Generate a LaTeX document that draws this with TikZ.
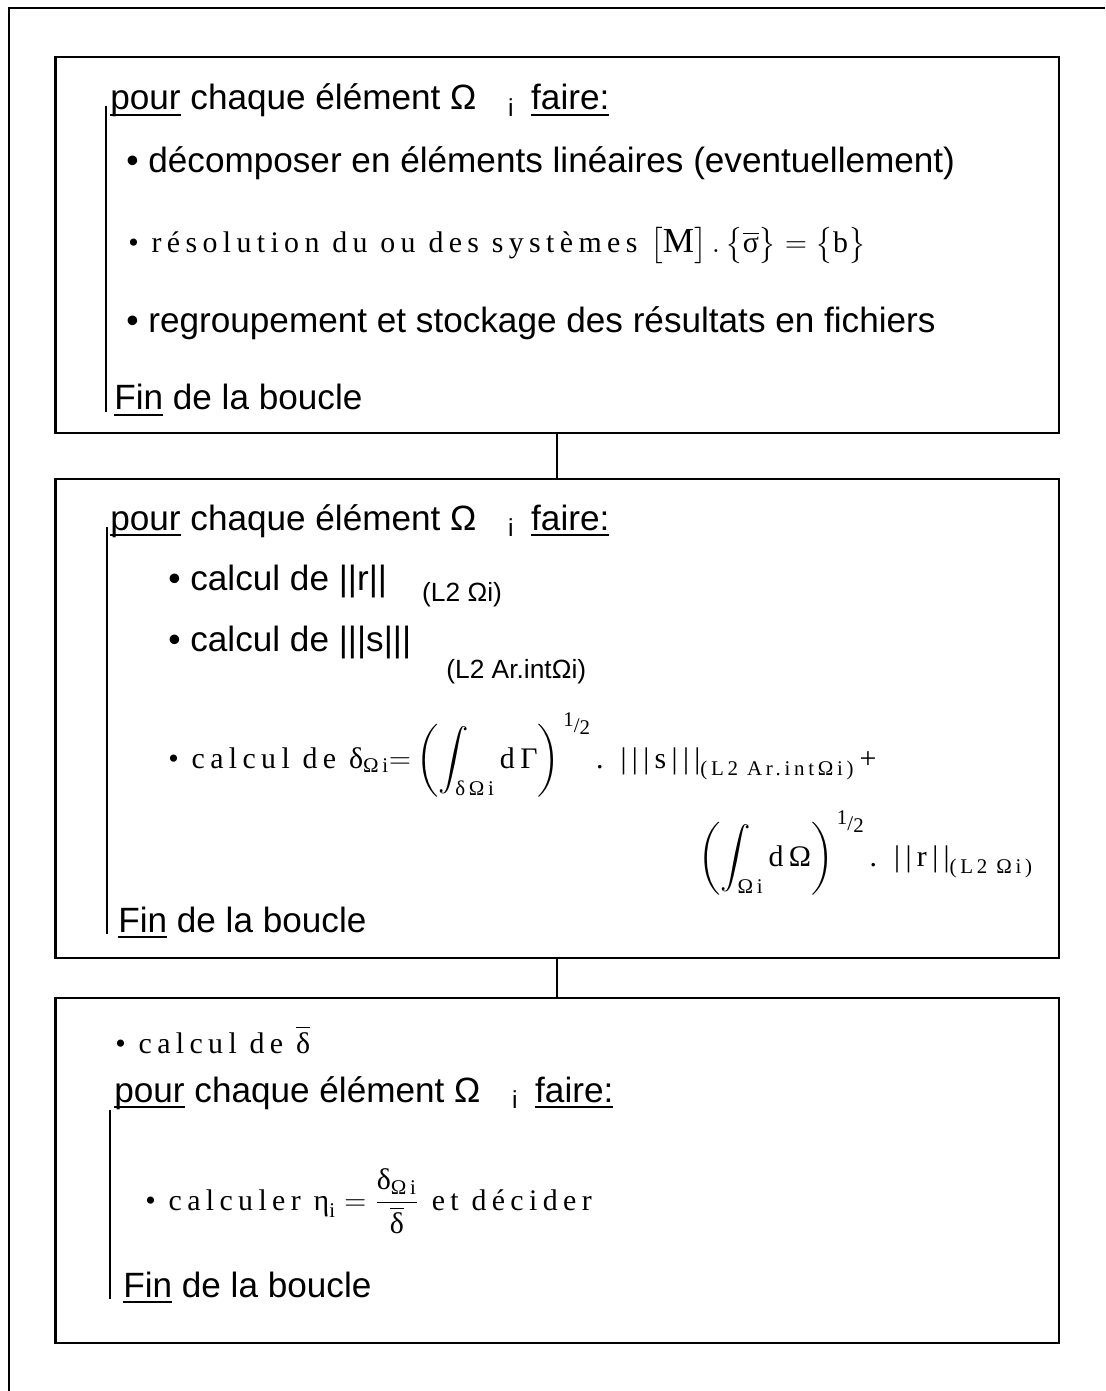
\documentclass[tikz,border=0pt]{standalone}
\usepackage{amsmath}
\usepackage{fontspec}
\setmainfont{Liberation Sans}
\newfontfamily\spaced[LetterSpace=18]{Liberation Serif}
\newcommand{\gk}[1]{\text{\spaced #1}}
\newcommand{\half}{\text{\spaced\raisebox{0.6ex}{1}/\raisebox{-0.25ex}{2}}}
\newcommand{\ul}[1]{\underline{\smash{#1}}}
\newcommand{\pourchaque}{\ul{pour} chaque élément Ω\hspace{0.9em}\raisebox{-0.35ex}{\fontsize{14}{16}\selectfont i}\hspace{0.5em}\ul{faire:}}
\newcommand{\subsans}[2]{\hspace{1em}\raisebox{#1}{\fontsize{15}{17}\selectfont #2}}
\usetikzlibrary{positioning}

\begin{document}
\begin{tikzpicture}[x=0.02cm,y=-0.02cm,
  box/.style={draw, line width=1.6pt, minimum width=20.08cm, inner sep=0},
  link/.style={line width=1.1pt},
  loopbar/.style={line width=0.9pt},
  txt/.style={anchor=base west, inner sep=0, font=\fontsize{20}{24}\selectfont},
  ser/.style={anchor=base west, inner sep=0, font=\spaced\fontsize{17}{20}\selectfont}]
  \useasboundingbox (0,0) rectangle (1105,1391);
  % cadre exterieur
  \draw[line width=1.2pt] (1105,8) -- (9,8) -- (9,1391);
  % les trois blocs
  \foreach \n/\yc/\h in {b1/245/376, b2/718.5/479, b3/1170.5/345}{\node[box, minimum height=\h*0.02cm] (\n) at (557,\yc) {};}
  \draw[link] (b1.south) -- (b2.north);
  \draw[link] (b2.south) -- (b3.north);
  % bloc 1
  \node[txt] (pour1) at (110,110) {\pourchaque};
  \node[txt] (dec) at (126,173) {• décomposer en éléments linéaires (eventuellement)};
  \node[ser] (res) at (128,253) {• résolution du ou des systèmes $\bigl[\gk{\fontsize{20}{22}\selectfont M}\bigr]\,.\,\bigl\{\overline{\gk{σ}}\bigr\} = \bigl\{\gk{b}\bigr\}$};
  \node[txt] (reg) at (126,333) {• regroupement et stockage des résultats en fichiers};
  \node[txt] (fin1) at (114,410) {\ul{Fin} de la boucle};
  \draw[loopbar] (106,106) -- (106,412);
  % bloc 2
  \node[txt] (pour2) at (110,530) {\pourchaque};
  \node[txt] (calr) at (168,590) {• calcul de ||r||\subsans{-0.6ex}{(L2 Ωi)}};
  \node[txt] (cals) at (168,651) {• calcul de |||s|||\subsans{-1.5ex}{(L2 Ar.intΩi)}};
  \node[ser] (cald) at (168,768) {• calcul de $\gk{δ}_{\gk{Ωi}}{=}\left(\displaystyle\int_{\gk{δΩi}}\gk{dΓ}\right)^{\kern2pt\half}\gk{. |||s|||}_{\gk{(L2 Ar.intΩi)}}\,\gk{+}$};
  \node[ser] (calr2) at (698,866) {$\left(\displaystyle\int_{\gk{Ωi}}\gk{dΩ}\right)^{\kern2pt\half}\gk{. ||r||}_{\gk{(L2 Ωi)}}$};
  \node[txt] (fin2) at (118,932) {\ul{Fin} de la boucle};
  \draw[loopbar] (107,527) -- (107,934);
  % bloc 3
  \node[ser] (delta) at (115,1053) {• calcul de $\overline{\gk{δ}}$};
  \node[txt] (pour3) at (114,1102) {\pourchaque};
  \node[ser] (eta) at (145,1210) {• calculer $\gk{η}_{\gk{i}} = \dfrac{\gk{δ}_{\gk{Ωi}}}{\overline{\gk{δ}}}$ et décider};
  \node[txt] (fin3) at (123,1297) {\ul{Fin} de la boucle};
  \draw[loopbar] (110,1110) -- (110,1299);
\end{tikzpicture}
\end{document}
